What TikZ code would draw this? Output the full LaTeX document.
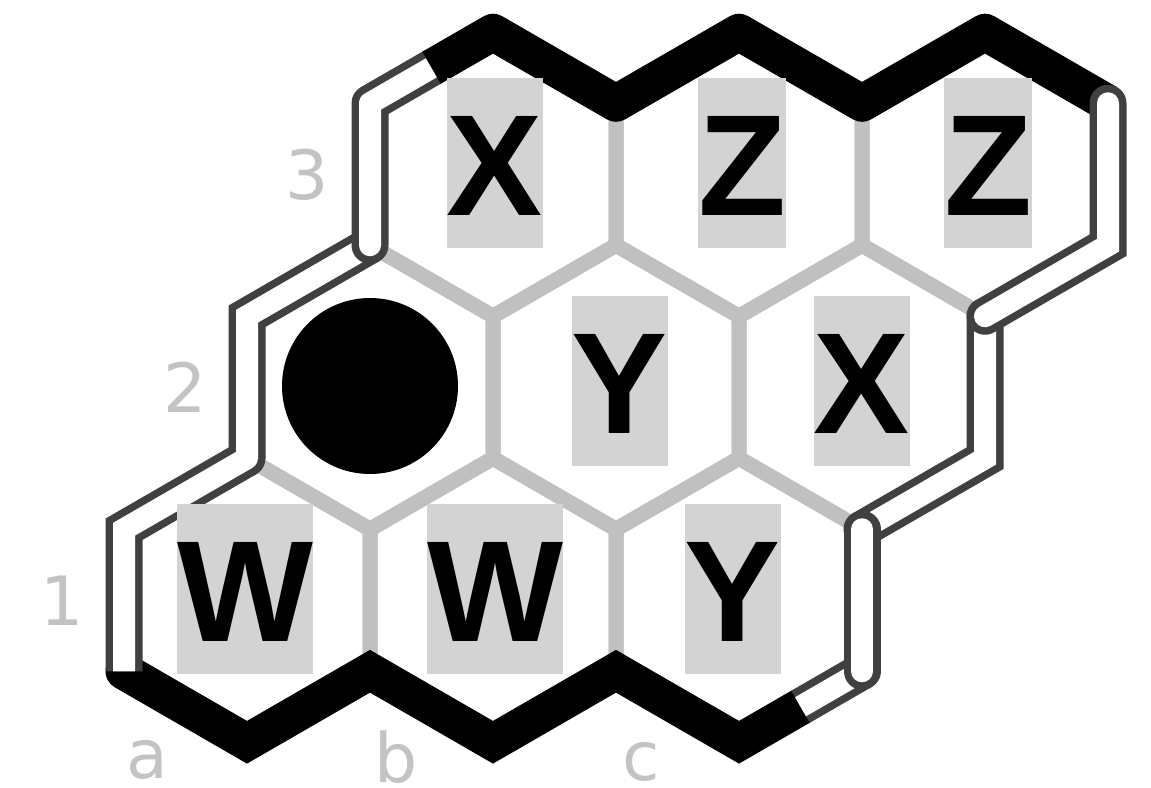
\documentclass[tikz,border=0pt]{standalone}
\usepackage{fontspec}
\newfontfamily\letterfont{Liberation Sans}
\newfontfamily\labelfont{DejaVu Sans}
\definecolor{gridgray}{RGB}{192,192,192}
\definecolor{boxgray}{RGB}{211,211,211}
\definecolor{walldark}{RGB}{64,64,64}
\definecolor{labelgray}{RGB}{195,195,195}
\tikzset{
  gridline/.style={draw=gridgray, line width=15pt},
  blackband/.style={draw=black, line width=37pt},
  darkband/.style={draw=walldark, line width=37pt},
  whiteband/.style={draw=white, line width=22pt},
  letterbox/.style={fill=boxgray, inner xsep=0pt, inner ysep=0pt, text height=137pt, text depth=33pt,
    font=\letterfont\bfseries\fontsize{144}{160}\selectfont, anchor=base},
  lbl/.style={text=labelgray, font=\labelfont\fontsize{68}{80}\selectfont, inner sep=0pt, anchor=base, text depth=0pt}
}
\begin{document}
\begin{tikzpicture}[x=1pt,y=-1pt]
\useasboundingbox (0,0) rectangle (1151,787);
% grid
\foreach \i in {0,1,2}{\foreach \j in {0,1,2}{
  \pgfmathsetmacro\cx{247+246*\i+123*\j}
  \pgfmathsetmacro\cy{600.25-213*\j}
  \draw[gridline] (\cx,\cy-142) -- ++(123,71) -- ++(0,142) -- ++(-123,71) -- ++(-123,-71) -- ++(0,-142) -- cycle;
}}
% border vertices
\coordinate (A1ul) at (124,529.25);
\coordinate (A1ll) at (124,671.25);
\coordinate (A1b) at (247,742.25);
\coordinate (B1ll) at (370,671.25);
\coordinate (B1b) at (493,742.25);
\coordinate (C1ll) at (616,671.25);
\coordinate (C1b) at (739,742.25);
\coordinate (C1m) at (800.5,706.75);
\coordinate (C1lr) at (862,671.25);
\coordinate (C1ur) at (862,529.25);
\coordinate (C2lr) at (985,458.25);
\coordinate (C2ur) at (985,316.25);
\coordinate (C3lr) at (1108,245.25);
\coordinate (C3ur) at (1108,103.25);
\coordinate (C3t) at (985,32.25);
\coordinate (B3ur) at (862,103.25);
\coordinate (B3t) at (739,32.25);
\coordinate (A3ur) at (616,103.25);
\coordinate (A3t) at (493,32.25);
\coordinate (A3m) at (431.5,67.75);
\coordinate (A3ul) at (370,103.25);
\coordinate (A3ll) at (370,245.25);
\coordinate (A2ul) at (247,316.25);
\coordinate (A2ll) at (247,458.25);
% stone
\fill[black] (370,386) circle (88);
% bottom black band
\draw[blackband, line cap=round, line join=miter] (A1ll) -- (A1b) -- (B1ll) -- (B1b) -- (C1ll) -- (C1b) -- (C1m);
% white half edge at c1
\draw[darkband] (C1m) -- (C1lr);
\draw[whiteband] (C1m) -- (C1lr);
% left white border, lower part
\draw[darkband] (A1ll) -- (A1ul) -- (A2ll);
\draw[darkband] (A2ll) -- (A2ul) -- (A3ll);
\fill[walldark] (A2ll) circle (18.5);
\draw[whiteband] (A1ll) -- (A1ul) -- (A2ll);
\draw[whiteband] (A2ll) -- (A2ul) -- (A3ll);
\fill[white] (A2ll) circle (11);
% left white border, upper part
\draw[darkband, line cap=round, line join=round] (A3ll) -- (A3ul) -- (A3m);
\draw[whiteband, line cap=round, line join=round] (A3ll) -- (A3ul) -- (A3m);
% top black band
\draw[blackband, line join=round] (A3m) -- (A3t) -- (A3ur) -- (B3t) -- (B3ur) -- (C3t) -- (C3ur);
% right white border
\draw[darkband, line cap=round] (C2ur) -- (C2lr) -- (C1ur);
\draw[whiteband, line cap=round] (C2ur) -- (C2lr) -- (C1ur);
\draw[darkband, line cap=round] (C3ur) -- (C3lr) -- (C2ur);
\draw[whiteband, line cap=round] (C3ur) -- (C3lr) -- (C2ur);
\draw[darkband, line cap=round] (C1ur) -- (C1lr);
\draw[whiteband, line cap=round] (C1ur) -- (C1lr);
% letters
\node[letterbox] (a3) at (495,215.25) {X};
\node[letterbox] (b3) at (742,215.25) {Z};
\node[letterbox] (c3) at (988,215.25) {Z};
\node[letterbox] (b2) at (620,433) {Y};
\node[letterbox] (c2) at (862,433) {X};
\node[letterbox] (a1) at (245,641.25) {W};
\node[letterbox] (b1) at (495,641.25) {W};
\node[letterbox] (c1) at (733,641.25) {Y};
% coordinate labels
\node[lbl] (r1) at (62.5,625) {1};
\node[lbl] (r2) at (185,412) {2};
\node[lbl] (r3) at (307.5,199) {3};
\node[lbl] (ca) at (147,778) {a};
\node[lbl] (cb) at (396,782) {b};
\node[lbl] (cc) at (641,780) {c};
\end{tikzpicture}
\end{document}
